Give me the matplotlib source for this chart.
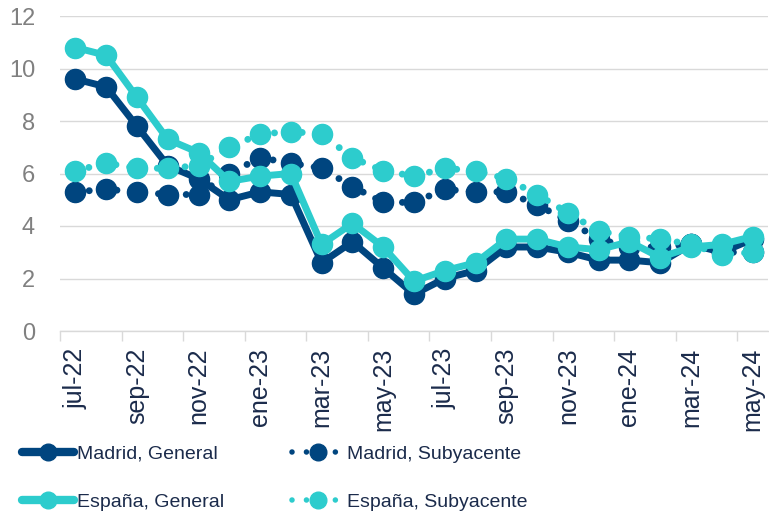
import matplotlib
matplotlib.use("Agg")
import matplotlib.pyplot as plt
from matplotlib.lines import Line2D

months = ['jul-22', 'ago-22', 'sep-22', 'oct-22', 'nov-22', 'dic-22', 'ene-23', 'feb-23',
          'mar-23', 'abr-23', 'may-23', 'jun-23', 'jul-23', 'ago-23', 'sep-23', 'oct-23',
          'nov-23', 'dic-23', 'ene-24', 'feb-24', 'mar-24', 'abr-24', 'may-24']
madrid_general = [9.6, 9.3, 7.8, 6.3, 5.8, 5.0, 5.3, 5.2, 2.6, 3.4, 2.4, 1.4, 2.0, 2.3,
                  3.2, 3.2, 3.0, 2.7, 2.7, 2.6, 3.3, 3.0, 3.5]
madrid_sub = [5.3, 5.4, 5.3, 5.2, 5.2, 6.0, 6.6, 6.4, 6.2, 5.5, 4.9, 4.9, 5.4, 5.3,
              5.3, 4.8, 4.2, 3.5, 3.2, 3.2, 3.3, 3.0, 3.0]
espana_general = [10.8, 10.5, 8.9, 7.3, 6.8, 5.7, 5.9, 6.0, 3.3, 4.1, 3.2, 1.9, 2.3, 2.6,
                  3.5, 3.5, 3.2, 3.1, 3.4, 2.8, 3.2, 3.3, 3.6]
espana_sub = [6.1, 6.4, 6.2, 6.2, 6.3, 7.0, 7.5, 7.6, 7.5, 6.6, 6.1, 5.9, 6.2, 6.1,
              5.8, 5.2, 4.5, 3.8, 3.6, 3.5, 3.3, 2.9, 3.0]
labels = ['Madrid, General', 'Madrid, Subyacente', 'España, General', 'España, Subyacente']
yticks = [0, 2, 4, 6, 8, 10, 12]

NAVY = '#00457F'
TEAL = '#2DCCCD'
TEXT = '#1B2B4B'
GREY = '#808080'

plt.rcParams['font.family'] = ['Liberation Sans', 'DejaVu Sans']

fig = plt.figure(figsize=(7.69, 5.15), dpi=100)
W, H = 769, 515
ax = fig.add_axes([60 / W, (H - 331) / H, 708 / W, 315 / H])

x = list(range(len(months)))
lw = 5.0
ms = 14.5
dots = (0.001, 2.0)

ax.plot(x, madrid_general, color=NAVY, lw=lw, marker='o', ms=ms, solid_capstyle='round',
        solid_joinstyle='round', zorder=3)
l2, = ax.plot(x, madrid_sub, color=NAVY, lw=lw, marker='o', ms=ms, zorder=4)
l2.set_dashes(dots); l2.set_dash_capstyle('round')
ax.plot(x, espana_general, color=TEAL, lw=lw, marker='o', ms=ms, solid_capstyle='round',
        solid_joinstyle='round', zorder=5)
l4, = ax.plot(x, espana_sub, color=TEAL, lw=lw, marker='o', ms=ms, zorder=6)
l4.set_dashes(dots); l4.set_dash_capstyle('round')

ax.set_xlim(-0.5, len(months) - 0.5)
ax.set_ylim(0, 12)
ax.set_yticks(yticks)
ax.set_yticklabels([str(v) for v in yticks], color=GREY, fontsize=17)
ax.tick_params(axis='y', length=0, pad=18)

# category boundary ticks (major), labels on every second category (minor)
ax.set_xticks([i - 0.5 for i in range(0, len(months) + 1, 2)])
ax.set_xticklabels([])
ax.tick_params(axis='x', which='major', length=7, color='#D9D9D9', width=1)
ax.set_xticks(x[::2], minor=True)
ax.set_xticklabels(months[::2], minor=True, rotation=90, color=TEXT, fontsize=18,
                   va='top', ha='center')
ax.tick_params(axis='x', which='minor', length=0, pad=12)

ax.grid(axis='y', color='#D9D9D9', lw=1)
ax.set_axisbelow(True)
for s in ['left', 'right', 'top']:
    ax.spines[s].set_visible(False)
ax.spines['bottom'].set_color('#D9D9D9')
ax.spines['bottom'].set_linewidth(1)

def handle(color, dotted):
    h = Line2D([], [], color=color, lw=6 if not dotted else 4, marker='o', ms=12,
               solid_capstyle='round')
    if dotted:
        h.set_dashes((0.001, 2.6))
        h.set_dash_capstyle('round')
    return h

lp = dict(frameon=False, handlelength=2.65, handletextpad=0.2, labelspacing=1.55,
          prop={'family': ['Liberation Sans', 'DejaVu Sans'], 'size': 14}, labelcolor=TEXT,
          borderaxespad=0, borderpad=0)
leg1 = fig.legend([handle(NAVY, False), handle(TEAL, False)], [labels[0], labels[2]],
                  loc='center left', bbox_to_anchor=(22 / W, 1 - 478 / H), **lp)
leg2 = fig.legend([handle(NAVY, True), handle(TEAL, True)], [labels[1], labels[3]],
                  loc='center left', bbox_to_anchor=(292 / W, 1 - 478 / H), **lp)

fig.savefig('out.png', dpi=100)
